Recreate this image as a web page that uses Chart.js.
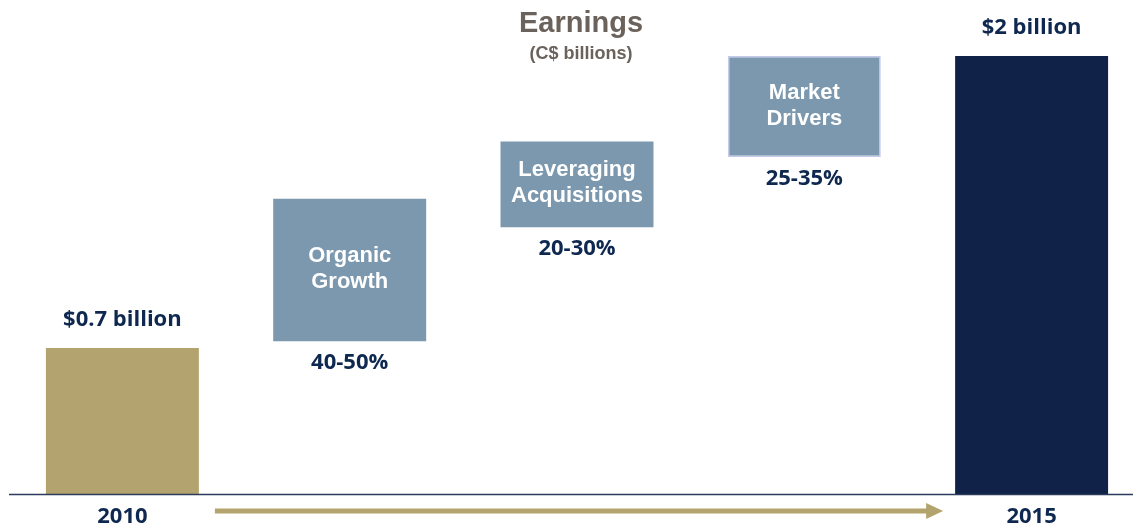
<!DOCTYPE html>
<html>
<head>
<meta charset="utf-8">
<script src="https://cdn.jsdelivr.net/npm/chart.js@4"></script>
<style>
    body { margin: 0; background: #fff; }
    #wrap { width: 1133px; height: 531px; position: relative; }
</style>
</head>
<body>
<div id="wrap"><canvas id="myChart"></canvas></div>
<script>
(() => {
    'use strict'

    // data
    const categories = ['2010', 'Organic Growth', 'Leveraging Acquisitions', 'Market Drivers', '2015']
    const stepLines = [null, ['Organic', 'Growth'], ['Leveraging', 'Acquisitions'], ['Market', 'Drivers'], null]
    const lows = [0, 0.70, 1.22, 1.54, 0]
    const highs = [0.67, 1.35, 1.61, 2.00, 2.00]
    const valueLabels = ['$0.7 billion', '40-50%', '20-30%', '25-35%', '$2 billion']
    const tickLabels = ['2010', '', '', '', '2015']

    const navyText = '#0f2850'

    // title, value labels, baseline and arrow
    const decor = {
        id: 'decor',
        afterDatasetsDraw(chart) {
            const c = chart.ctx
            const area = chart.chartArea
            const bars = chart.getDatasetMeta(0).data
            c.save()

            // baseline
            c.strokeStyle = '#2b3b5c'
            c.lineWidth = 1.5
            c.beginPath()
            c.moveTo(9, area.bottom - 0.5)
            c.lineTo(chart.width, area.bottom - 0.5)
            c.stroke()

            // title
            const cx = (area.left + area.right) / 2 + 4
            c.fillStyle = '#6b625b'
            c.textAlign = 'center'
            c.textBaseline = 'alphabetic'
            c.font = 'bold 29px "Liberation Sans", Arial, sans-serif'
            c.fillText('Earnings', cx, 32)
            c.font = 'bold 18px "Liberation Sans", Arial, sans-serif'
            c.fillText('(C$ billions)', cx, 59)

            bars.forEach((bar, i) => {
                const top = Math.min(bar.y, bar.base)
                const bottom = Math.max(bar.y, bar.base)
                c.fillStyle = navyText
                c.font = 'bold 22px "Open Sans", sans-serif'
                if (stepLines[i]) {
                    c.fillText(valueLabels[i], bar.x, bottom + 28)
                    c.fillStyle = '#ffffff'
                    c.font = 'bold 22px "Liberation Sans", Arial, sans-serif'
                    c.textBaseline = 'middle'
                    const mid = (top + bottom) / 2
                    c.fillText(stepLines[i][0], bar.x, mid - 14)
                    c.fillText(stepLines[i][1], bar.x, mid + 12)
                    c.textBaseline = 'alphabetic'
                } else {
                    c.fillText(valueLabels[i], bar.x, top - 22)
                }
            })

            // arrow along the bottom
            const first = bars[0]
            const last = bars[bars.length - 1]
            const x0 = first.x + first.width / 2 + 16
            const x1 = last.x - last.width / 2 - 12
            const ay = 511
            c.fillStyle = '#b3a46f'
            c.fillRect(x0, ay - 2.5, x1 - 16 - x0, 5)
            c.beginPath()
            c.moveTo(x1 - 17, ay - 8)
            c.lineTo(x1, ay)
            c.lineTo(x1 - 17, ay + 8)
            c.closePath()
            c.fill()

            c.restore()
        }
    }

    const ctx = document.getElementById('myChart')
    // eslint-disable-next-line no-unused-vars
    const myChart = new Chart(ctx, {
        type: 'bar',
        data: {
            labels: categories,
            datasets: [{
                data: lows.map((lo, i) => [lo, highs[i]]),
                backgroundColor: ['#b3a46f', '#7b98ae', '#7b98ae', '#7b98ae', '#102248'],
                borderColor: ['#b3a46f', '#7b98ae', '#7b98ae', '#c5c9ec', '#102248'],
                borderWidth: [0, 0, 0, 1.5, 0],
                borderSkipped: false,
                barPercentage: 0.673,
                categoryPercentage: 1,
                clip: false
            }]
        },
        options: {
            responsive: true,
            maintainAspectRatio: false,
            animation: false,
            layout: {
                padding: { top: 56, left: 122.4, right: 101.4, bottom: -8.4 }
            },
            scales: {
                x: {
                    offset: false,
                    grid: { display: false, drawTicks: false },
                    border: { display: false },
                    ticks: {
                        autoSkip: false,
                        maxRotation: 0,
                        padding: 9,
                        color: navyText,
                        font: { family: '"Open Sans", sans-serif', size: 22, weight: 'bold' },
                        callback: (v, i) => tickLabels[i]
                    }
                },
                y: {
                    display: false,
                    min: 0,
                    max: 2
                }
            },
            plugins: {
                legend: { display: false },
                tooltip: { enabled: false }
            }
        },
        plugins: [decor]
    })
})()
</script>
</body>
</html>
